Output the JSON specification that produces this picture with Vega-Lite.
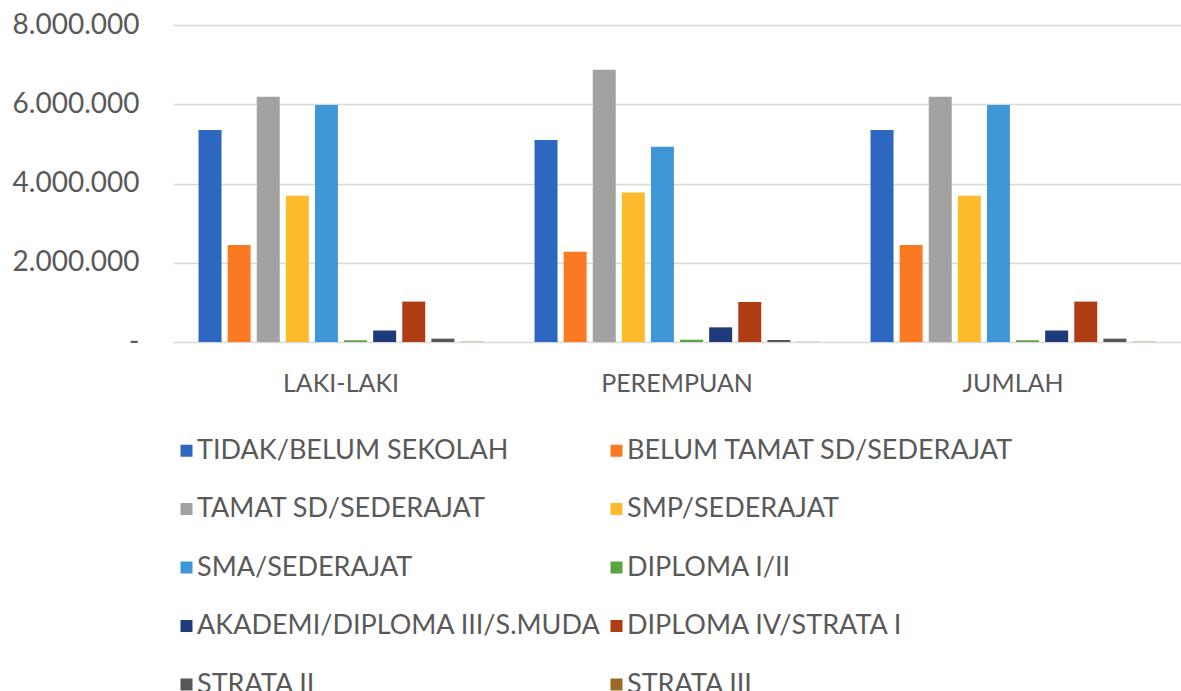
{
  "$schema": "https://vega.github.io/schema/vega-lite/v6.json",
  "width": 1008,
  "height": 317,
  "autosize": "none",
  "padding": {"left": 173, "top": 25, "right": 0, "bottom": 349},
  "background": "white",
  "config": {
    "font": "Lato",
    "view": {"stroke": null},
    "axis": {"labelColor": "#595959", "labelFont": "Lato"},
    "legend": {"labelFont": "Lato"}
  },
  "data": {
    "values": [
      {"kelompok": "LAKI-LAKI", "pendidikan": "TIDAK/BELUM SEKOLAH", "jumlah": 5350000},
      {"kelompok": "LAKI-LAKI", "pendidikan": "BELUM TAMAT SD/SEDERAJAT", "jumlah": 2450000},
      {"kelompok": "LAKI-LAKI", "pendidikan": "TAMAT SD/SEDERAJAT", "jumlah": 6190000},
      {"kelompok": "LAKI-LAKI", "pendidikan": "SMP/SEDERAJAT", "jumlah": 3690000},
      {"kelompok": "LAKI-LAKI", "pendidikan": "SMA/SEDERAJAT", "jumlah": 5980000},
      {"kelompok": "LAKI-LAKI", "pendidikan": "DIPLOMA I/II", "jumlah": 45000},
      {"kelompok": "LAKI-LAKI", "pendidikan": "AKADEMI/DIPLOMA III/S.MUDA", "jumlah": 290000},
      {"kelompok": "LAKI-LAKI", "pendidikan": "DIPLOMA IV/STRATA I", "jumlah": 1020000},
      {"kelompok": "LAKI-LAKI", "pendidikan": "STRATA II", "jumlah": 85000},
      {"kelompok": "LAKI-LAKI", "pendidikan": "STRATA III", "jumlah": 8000},
      {"kelompok": "PEREMPUAN", "pendidikan": "TIDAK/BELUM SEKOLAH", "jumlah": 5100000},
      {"kelompok": "PEREMPUAN", "pendidikan": "BELUM TAMAT SD/SEDERAJAT", "jumlah": 2280000},
      {"kelompok": "PEREMPUAN", "pendidikan": "TAMAT SD/SEDERAJAT", "jumlah": 6870000},
      {"kelompok": "PEREMPUAN", "pendidikan": "SMP/SEDERAJAT", "jumlah": 3770000},
      {"kelompok": "PEREMPUAN", "pendidikan": "SMA/SEDERAJAT", "jumlah": 4930000},
      {"kelompok": "PEREMPUAN", "pendidikan": "DIPLOMA I/II", "jumlah": 55000},
      {"kelompok": "PEREMPUAN", "pendidikan": "AKADEMI/DIPLOMA III/S.MUDA", "jumlah": 370000},
      {"kelompok": "PEREMPUAN", "pendidikan": "DIPLOMA IV/STRATA I", "jumlah": 1010000},
      {"kelompok": "PEREMPUAN", "pendidikan": "STRATA II", "jumlah": 50000},
      {"kelompok": "PEREMPUAN", "pendidikan": "STRATA III", "jumlah": 5000},
      {"kelompok": "JUMLAH", "pendidikan": "TIDAK/BELUM SEKOLAH", "jumlah": 5350000},
      {"kelompok": "JUMLAH", "pendidikan": "BELUM TAMAT SD/SEDERAJAT", "jumlah": 2450000},
      {"kelompok": "JUMLAH", "pendidikan": "TAMAT SD/SEDERAJAT", "jumlah": 6190000},
      {"kelompok": "JUMLAH", "pendidikan": "SMP/SEDERAJAT", "jumlah": 3690000},
      {"kelompok": "JUMLAH", "pendidikan": "SMA/SEDERAJAT", "jumlah": 5980000},
      {"kelompok": "JUMLAH", "pendidikan": "DIPLOMA I/II", "jumlah": 45000},
      {"kelompok": "JUMLAH", "pendidikan": "AKADEMI/DIPLOMA III/S.MUDA", "jumlah": 290000},
      {"kelompok": "JUMLAH", "pendidikan": "DIPLOMA IV/STRATA I", "jumlah": 1020000},
      {"kelompok": "JUMLAH", "pendidikan": "STRATA II", "jumlah": 85000},
      {"kelompok": "JUMLAH", "pendidikan": "STRATA III", "jumlah": 8000}
    ]
  },
  "mark": {"type": "bar"},
  "encoding": {
    "x": {
      "field": "kelompok",
      "type": "nominal",
      "sort": ["LAKI-LAKI", "PEREMPUAN", "JUMLAH"],
      "scale": {"paddingInner": 0.152, "paddingOuter": 0.076},
      "axis": {
        "title": null,
        "labelAngle": 0,
        "labelFontSize": 25,
        "labelPadding": 29,
        "ticks": false,
        "domain": false
      }
    },
    "xOffset": {
      "field": "pendidikan",
      "type": "nominal",
      "scale": {
        "domain": ["TIDAK/BELUM SEKOLAH", "BELUM TAMAT SD/SEDERAJAT", "TAMAT SD/SEDERAJAT", "SMP/SEDERAJAT", "SMA/SEDERAJAT", "DIPLOMA I/II", "AKADEMI/DIPLOMA III/S.MUDA", "DIPLOMA IV/STRATA I", "STRATA II", "STRATA III"],
        "paddingInner": 0.21,
        "paddingOuter": 0
      }
    },
    "y": {
      "field": "jumlah",
      "type": "quantitative",
      "scale": {"domain": [0, 8000000], "nice": false},
      "axis": {
        "title": null,
        "values": [0, 2000000, 4000000, 6000000, 8000000],
        "labelExpr": "datum.value == 0 ? '-' : format(datum.value / 1000000, 'd') + '.000.000'",
        "labelFontSize": 28,
        "labelPadding": 34,
        "ticks": false,
        "domain": false,
        "gridColor": "#d9d9d9",
        "gridWidth": 1.5
      }
    },
    "color": {
      "field": "pendidikan",
      "type": "nominal",
      "scale": {
        "domain": ["TIDAK/BELUM SEKOLAH", "BELUM TAMAT SD/SEDERAJAT", "TAMAT SD/SEDERAJAT", "SMP/SEDERAJAT", "SMA/SEDERAJAT", "DIPLOMA I/II", "AKADEMI/DIPLOMA III/S.MUDA", "DIPLOMA IV/STRATA I", "STRATA II", "STRATA III"],
        "range": ["#2d67c2", "#f97a22", "#a2a2a2", "#fdba2c", "#3f97d8", "#5aa542", "#1f3b7a", "#b03c14", "#575757", "#9a6a26"]
      },
      "legend": {
        "title": null,
        "orient": "none",
        "legendX": 0,
        "legendY": 412,
        "direction": "horizontal",
        "columns": 2,
        "columnPadding": 2,
        "rowPadding": 30.5,
        "symbolType": "square",
        "symbolSize": 144,
        "symbolStrokeWidth": 0,
        "labelFontSize": 27,
        "labelColor": "#595959",
        "labelOffset": -3,
        "labelLimit": 700,
        "padding": 0
      }
    }
  }
}
